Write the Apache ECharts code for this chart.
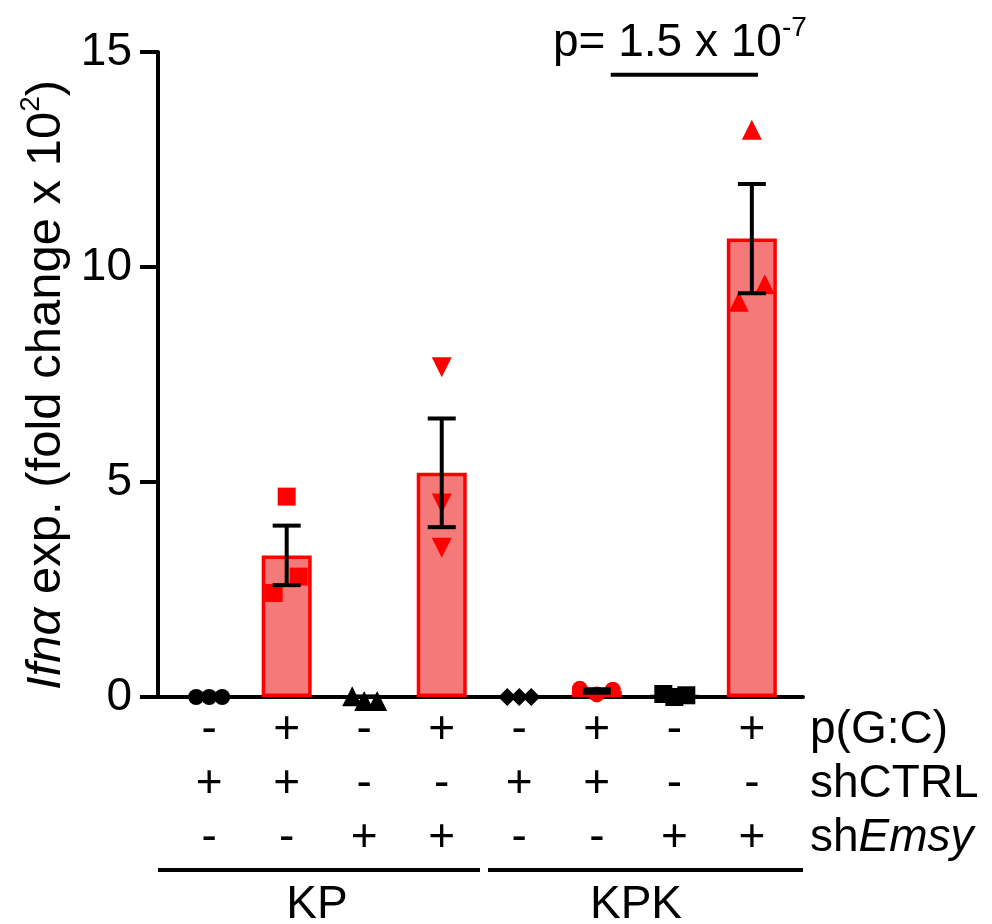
<!DOCTYPE html>
<html>
<head>
<meta charset="utf-8">
<script src="https://cdn.jsdelivr.net/npm/echarts@6/dist/echarts.min.js"></script>
<style>
html,body{margin:0;padding:0;background:#fff;}
#chart{width:992px;height:924px;}
</style>
</head>
<body>
<div id="chart"></div>
<script>
// ---- data ----
const groups = ['KP', 'KPK'];
const positions = [1, 2, 3, 4, 5, 6, 7, 8];
const pGC    = ['-', '+', '-', '+', '-', '+', '-', '+'];
const shCTRL = ['+', '+', '-', '-', '+', '+', '-', '-'];
const shEmsy = ['-', '-', '+', '+', '-', '-', '+', '+'];
const replicates = [
  [0.0, 0.0, 0.0],
  [4.66, 2.80, 2.42],
  [0.02, 0.0, 0.0],
  [7.67, 4.50, 3.47],
  [0.0, 0.0, 0.0],
  [0.19, 0.06, 0.17],
  [0.07, 0.0, 0.04],
  [13.19, 9.60, 9.19]
];
const yTicks = [0, 5, 10, 15];
const pValueText = '1.5 x 10';
const pValueExp = '-7';
const pLine = [[6.18, 14.47], [8.08, 14.47]];

// ---- styles ----
const FONT = 'Liberation Sans, Arial, Helvetica, sans-serif';
const RED = '#ff0000';
const FILL = '#f47a7a';
const isRed = [false, true, false, true, false, true, false, true];
const symbols = ['circle', 'rect', 'triangle', 'triangle', 'diamond', 'circle', 'rect', 'triangle'];
const symRot = [0, 0, 0, 180, 0, 0, 0, 0];
const symSize = [16, 18, 20, 20, 18, 16, 18, 20];
const jitter = [[-13,0,13],[0,12,-13],[-12,0,13],[0,0,0],[-12,0,12],[-17,0,16],[-11,0,12],[0,13,-13]];
const yShift = [[0,0,0],[0,0,0],[0,4,4],[0,0,0],[0,0,0],[0,0,0],[0,0,0],[0,0,0]];

const means = replicates.map(r => r.reduce((a, b) => a + b, 0) / r.length);
const sems = replicates.map((r, i) => {
  const m = means[i];
  const v = r.reduce((a, b) => a + (b - m) * (b - m), 0) / (r.length - 1);
  return Math.sqrt(v) / Math.sqrt(r.length);
});

const barData = positions.map((x, i) => ({
  value: [x, means[i]],
  itemStyle: isRed[i]
    ? { color: FILL, borderColor: RED, borderWidth: 3.5 }
    : { color: 'rgba(0,0,0,0)', borderColor: '#000', borderWidth: 3 }
}));

const pointData = [];
replicates.forEach((r, i) => {
  r.forEach((v, j) => {
    pointData.push({
      value: [positions[i], v],
      symbol: symbols[i],
      symbolRotate: symRot[i],
      symbolSize: symSize[i],
      symbolOffset: [jitter[i][j], yShift[i][j]],
      itemStyle: { color: isRed[i] ? RED : '#000', opacity: 1 }
    });
  });
});

const errData = positions.map((x, i) => [x, means[i], sems[i]]);

const chart = echarts.init(document.getElementById('chart'), null, { renderer: 'canvas' });

const option = {
  backgroundColor: '#fff',
  animation: false,
  grid: { left: 158, right: 189, top: 52, bottom: 227, containLabel: false },
  xAxis: {
    type: 'value',
    min: 0.34,
    max: 8.66,
    splitLine: { show: false },
    axisTick: { show: false },
    axisLine: { show: true, lineStyle: { color: '#000', width: 4 } },
    axisLabel: {
      customValues: positions,
      margin: 6,
      formatter: function (v) {
        const i = positions.indexOf(Math.round(v));
        if (i < 0) return '';
        return '{r|' + pGC[i] + '}\n{r|' + shCTRL[i] + '}\n{r|' + shEmsy[i] + '}';
      },
      rich: {
        r: { fontSize: 46, lineHeight: 54, fontFamily: FONT, color: '#000', align: 'center' }
      }
    }
  },
  yAxis: {
    type: 'value',
    min: yTicks[0],
    max: yTicks[yTicks.length - 1],
    interval: yTicks[1] - yTicks[0],
    splitLine: { show: false },
    axisLine: { show: true, lineStyle: { color: '#000', width: 4 } },
    axisTick: { show: true, length: 18, lineStyle: { color: '#000', width: 4 } },
    axisLabel: { fontSize: 46, fontFamily: FONT, color: '#000', margin: 26 }
  },
  series: [
    {
      type: 'bar',
      data: barData,
      barWidth: 50,
      z: 2
    },
    {
      type: 'scatter',
      data: pointData,
      clip: false,
      itemStyle: { opacity: 1 },
      z: 3
    },
    {
      type: 'custom',
      z: 4,
      data: errData,
      renderItem: function (params, api) {
        const x = api.value(0), m = api.value(1), s = api.value(2);
        const top = api.coord([x, m + s]);
        const bot = api.coord([x, m - s]);
        const hw = 14;
        const st = { stroke: '#000', lineWidth: 4 };
        return {
          type: 'group',
          children: [
            { type: 'line', shape: { x1: top[0], y1: top[1], x2: bot[0], y2: bot[1] }, style: st },
            { type: 'line', shape: { x1: top[0] - hw, y1: top[1], x2: top[0] + hw, y2: top[1] }, style: st },
            { type: 'line', shape: { x1: bot[0] - hw, y1: bot[1], x2: bot[0] + hw, y2: bot[1] }, style: st }
          ]
        };
      }
    },
    {
      type: 'line',
      data: pLine,
      symbol: 'none',
      lineStyle: { color: '#000', width: 4 },
      z: 4
    }
  ],
  graphic: [
    // y-axis title
    {
      type: 'text',
      x: 44, y: 385,
      rotation: Math.PI / 2,
      style: {
        text: '{it|Ifnα}{n| exp. (fold change x 10}{sup|2}{n|)}',
        textAlign: 'center',
        textVerticalAlign: 'middle',
        rich: {
          it: { fontSize: 49, fontStyle: 'italic', fontFamily: FONT, lineHeight: 54, verticalAlign: 'bottom', fill: '#000' },
          n: { fontSize: 49, fontFamily: FONT, lineHeight: 54, verticalAlign: 'bottom', fill: '#000' },
          sup: { fontSize: 28, fontFamily: FONT, lineHeight: 28, verticalAlign: 'top', fill: '#000' }
        }
      }
    },
    // p-value
    {
      type: 'text',
      x: 553, y: 40,
      style: {
        text: '{n|p= ' + pValueText + '}{sup|' + pValueExp + '}',
        textAlign: 'left',
        textVerticalAlign: 'middle',
        rich: {
          n: { fontSize: 46, fontFamily: FONT, lineHeight: 52, verticalAlign: 'bottom', fill: '#000' },
          sup: { fontSize: 28, fontFamily: FONT, lineHeight: 28, verticalAlign: 'top', fill: '#000' }
        }
      }
    },
    // row titles
    { type: 'text', x: 810, y: 730, style: { text: 'p(G:C)', font: '46px ' + FONT, fill: '#000', textAlign: 'left', textVerticalAlign: 'middle' } },
    { type: 'text', x: 810, y: 784, style: { text: 'shCTRL', font: '46px ' + FONT, fill: '#000', textAlign: 'left', textVerticalAlign: 'middle' } },
    {
      type: 'text', x: 810, y: 838,
      style: {
        text: '{n|sh}{it|Emsy}',
        textAlign: 'left', textVerticalAlign: 'middle',
        rich: {
          n: { fontSize: 46, fontFamily: FONT, fill: '#000' },
          it: { fontSize: 46, fontFamily: FONT, fontStyle: 'italic', fill: '#000' }
        }
      }
    },
    // group lines & labels
    { type: 'line', shape: { x1: 158, y1: 870, x2: 480, y2: 870 }, style: { stroke: '#000', lineWidth: 4 } },
    { type: 'line', shape: { x1: 488, y1: 870, x2: 803, y2: 870 }, style: { stroke: '#000', lineWidth: 4 } },
    { type: 'text', x: 317, y: 905, style: { text: groups[0], font: '46px ' + FONT, fill: '#000', textAlign: 'center', textVerticalAlign: 'middle' } },
    { type: 'text', x: 636, y: 905, style: { text: groups[1], font: '46px ' + FONT, fill: '#000', textAlign: 'center', textVerticalAlign: 'middle' } }
  ]
};

chart.setOption(option);
</script>
</body>
</html>
